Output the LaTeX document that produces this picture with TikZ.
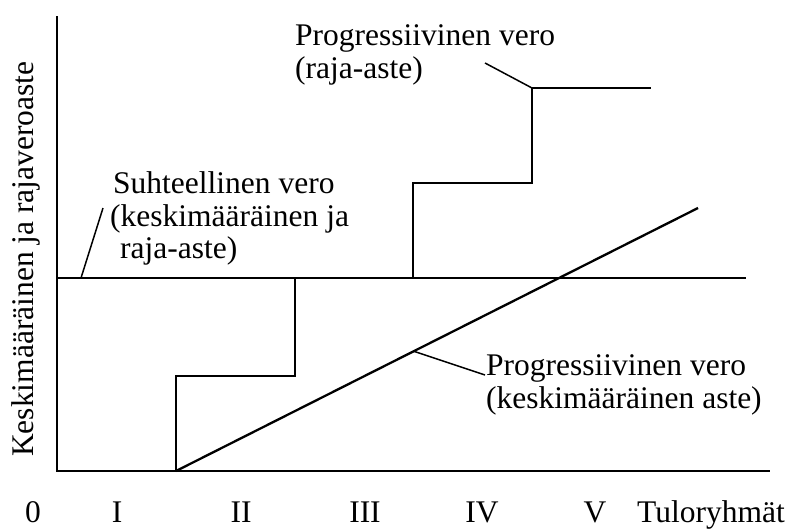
\documentclass[tikz,border=0pt]{standalone}
\usepackage{fontspec}
\setmainfont{Liberation Serif}
\begin{document}
\begin{tikzpicture}[x=1pt,y=-1pt,
  axisline/.style={line width=1.5pt,black},
  plotline/.style={line width=2.3pt,black,line join=miter},
  leader/.style={line width=1.5pt,black},
  lbl/.style={anchor=base west,inner sep=0pt,font=\fontsize{31.5}{33}\selectfont},
  tick/.style={anchor=base,inner sep=0pt,font=\fontsize{31.5}{33}\selectfont}]
\useasboundingbox (0,0) rectangle (787,528);
% axes
\coordinate (top) at (57,16);
\coordinate (origin) at (57,471);
\coordinate (xend) at (770,471);
\draw[axisline] (top) -- (origin) -- (xend);
% proportional tax line
\coordinate (pstart) at (57,278);
\coordinate (pend) at (746,278);
\draw[axisline] (pstart) -- (pend);
% marginal progressive steps
\coordinate (s0) at (176,471);
\coordinate (s1) at (176,376);
\coordinate (s2) at (295,376);
\coordinate (s3) at (295,278);
\coordinate (s4) at (413,278);
\coordinate (s5) at (413,183);
\coordinate (s6) at (532,183);
\coordinate (s7) at (532,88);
\coordinate (s8) at (651,88);
\draw[plotline] (s0) -- (s1) -- (s2) -- (s3);
\draw[plotline] (s4) -- (s5) -- (s6) -- (s7) -- (s8);
% average progressive line
\coordinate (dend) at (698,208);
\draw[plotline] (s0) -- (dend);
% labels
\node[lbl] (pr1) at (295,45) {Progressiivinen vero};
\node[lbl] (pr2) at (295,78) {(raja-aste)};
\node[lbl] (su1) at (113,193) {Suhteellinen vero};
\node[lbl] (su2) at (110,226) {(keskimääräinen ja};
\node[lbl] (su3) at (120,258) {raja-aste)};
\node[lbl] (pa1) at (486,375) {Progressiivinen vero};
\node[lbl] (pa2) at (486,408) {(keskimääräinen aste)};
% leaders
\coordinate (l1a) at (485,63);
\draw[leader] (l1a) -- (s7);
\coordinate (l2a) at (103,208);
\coordinate (l2b) at (81,278);
\draw[leader] (l2a) -- (l2b);
\coordinate (l3a) at (413,351);
\coordinate (l3b) at (485,375);
\draw[leader] (l3a) -- (l3b);
% y label
\node[lbl,rotate=90] (ylab) at (33,457) {Keskimääräinen ja rajaveroaste};
% x labels
\node[tick] (t0) at (33,522) {0};
\node[tick] (t1) at (117,522) {I};
\node[tick] (t2) at (241,522) {II};
\node[tick] (t3) at (365,522) {III};
\node[tick] (t4) at (482,522) {IV};
\node[tick] (t5) at (595,522) {V};
\node[lbl] (tx) at (637,522) {Tuloryhmät};
\end{tikzpicture}
\end{document}
